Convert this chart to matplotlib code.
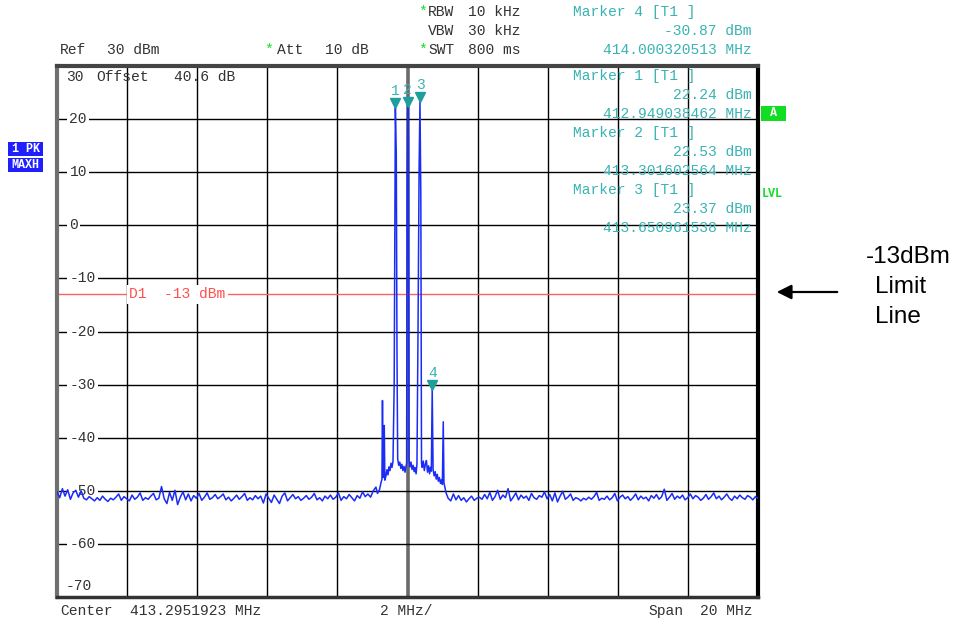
import matplotlib

matplotlib.use("Agg")
import matplotlib.pyplot as plt  # noqa: E402
import matplotlib.transforms as mtransforms  # noqa: E402
import numpy as np  # noqa: E402
from matplotlib.patches import Rectangle  # noqa: E402

W, H = 966, 623

CENTER_MHZ = 413.2951923
SPAN_MHZ = 20.0
REF_DBM = 30.0
LIMIT_DBM = -13.0
Y_LEVELS = [20, 10, 0, -10, -20, -30, -40, -50, -60]

# noise floor left of the carriers, swept from -10 MHz to about -0.9 MHz
noise_left = [
    -50.2, -51.3, -49.6, -51.0, -49.8, -51.6, -50.4, -49.9, -51.2, -50.0,
    -51.4, -51.7, -51.1, -51.5, -51.9, -51.3, -51.8, -51.0, -51.6, -52.0,
    -51.4, -51.7, -51.2, -50.6, -51.8, -51.1, -51.5, -51.9, -50.8, -51.6,
    -51.2, -50.4, -51.8, -51.3, -51.6, -51.0, -50.5, -51.7, -51.4, -49.2,
    -51.5, -52.4, -50.3, -51.8, -49.9, -52.6, -51.2, -50.2, -51.7, -50.6,
    -51.9, -50.9, -51.4, -50.5, -51.8, -51.2, -50.4, -51.6, -51.3, -50.7,
    -51.5, -51.1, -50.6, -51.7, -51.2, -51.9, -51.4, -50.8, -51.6, -51.1,
    -50.5, -51.8, -51.3, -51.7, -50.9, -51.5, -51.0, -52.3, -50.6, -51.4,
    -52.2, -50.8, -51.6, -52.4, -51.0, -50.4, -51.9, -51.3, -50.7, -51.5,
    -51.1, -51.8, -51.4, -50.9, -51.6, -51.2, -50.5, -51.7, -51.3, -51.9,
    -51.0, -51.5, -50.8, -51.6, -51.2, -50.4, -51.8, -51.1, -51.5, -50.7,
    -51.3, -51.9, -50.9, -51.4, -50.2, -51.1, -50.6, -51.2, -50.0, -49.3,
]
noise_left_span = (-10.0, -0.9)

# carrier region: (offset from center in MHz, level in dBm)
center_offsets = [
    -0.857, -0.800, -0.757, -0.729, -0.714, -0.697, -0.677, -0.663, -0.646, -0.614,
    -0.586, -0.557, -0.529, -0.500, -0.471, -0.443, -0.414, -0.380, -0.346, -0.320,
    -0.300, -0.280, -0.250, -0.220, -0.190, -0.160, -0.130, -0.100, -0.070, -0.045,
    -0.025, -0.010, 0.0064, 0.025, 0.045, 0.070, 0.100, 0.130, 0.160, 0.190,
    0.215, 0.245, 0.270, 0.300, 0.330, 0.3558, 0.380, 0.400, 0.420, 0.450,
    0.480, 0.510, 0.540, 0.570, 0.600, 0.630, 0.655, 0.680, 0.7051, 0.730,
    0.760, 0.790, 0.820, 0.850, 0.880, 0.910, 0.940, 0.970, 0.995, 1.020,
    1.040, 1.075, 1.100, 1.130,
]
center_levels = [
    -50.5, -49.8, -48.5, -47.8, -33.0, -47.5, -46.8, -37.7, -48.0, -47.2,
    -46.0, -47.0, -45.5, -46.2, -44.8, -45.6, -44.5, -30.0, 22.24, 13.4,
    -24.0, -44.0, -45.2, -44.6, -45.8, -45.0, -46.2, -45.4, -46.5, -45.6,
    -44.8, 8.0, 22.53, 16.0, -44.2, -45.5, -44.6, -46.0, -45.2, -46.4,
    -45.6, -46.8, -45.0, -20.0, 10.0, 23.37, 5.5, -44.8, -45.6, -44.4,
    -46.2, -45.0, -44.3, -46.5, -45.3, -46.8, -45.6, -46.3, -30.87, -46.0,
    -47.2, -46.4, -47.8, -46.9, -48.2, -47.5, -48.6, -47.9, -48.8, -37.0,
    -48.5, -49.6, -50.4, -50.9,
]

# noise floor right of the carriers, about 1.16 MHz to +10 MHz
noise_right = [
    -51.4, -51.9, -50.6, -51.7, -50.9, -51.8, -51.3, -52.1, -51.5, -51.0,
    -51.8, -51.4, -51.2, -51.6, -50.7, -51.5, -50.3, -51.8, -51.1, -49.9,
    -51.6, -50.8, -51.3, -49.6, -51.9, -51.2, -50.4, -51.7, -50.8, -51.4,
    -51.0, -51.8, -50.5, -51.3, -51.6, -50.9, -51.2, -50.2, -51.5, -50.7,
    -51.9, -50.4, -52.1, -51.0, -50.1, -51.6, -51.2, -50.6, -51.8, -51.3,
    -51.5, -51.9, -51.4, -51.7, -51.2, -51.6, -51.1, -50.3, -51.8, -51.4,
    -51.6, -51.0, -51.7, -51.3, -50.5, -51.9, -51.2, -50.8, -51.5, -51.1,
    -51.8, -51.3, -50.6, -51.7, -51.0, -51.5, -51.2, -51.9, -50.9, -51.4,
    -50.7, -51.6, -51.1, -49.7, -51.8, -51.2, -50.5, -51.6, -51.0, -51.4,
    -50.8, -51.7, -51.3, -50.6, -51.5, -50.9, -51.2, -51.8, -51.4, -50.7,
    -51.6, -51.1, -50.4, -51.5, -51.0, -51.7, -51.2, -50.6, -51.4, -51.8,
    -51.0, -51.5, -50.8, -51.3, -51.6, -50.9, -51.2, -51.7, -51.1, -51.4,
]
noise_right_span = (1.16, 10.0)

markers = [
    ("1", 412.949038462, 22.24),
    ("2", 413.301602564, 22.53),
    ("3", 413.650961538, 23.37),
    ("4", 414.000320513, -30.87),
]

MONO = "Liberation Mono"
GREY = "#333333"
TEAL = "#3ab3b3"
GREEN = "#11dd22"
TRACE = "#1a2cf5"


def px(x, y):
    return x / W, 1 - y / H


def ftext(x, y, s, color=GREY, ha="left", size=10.5, **kw):
    fx, fy = px(x, y)
    fig.text(fx, fy, s, color=color, ha=ha, va="center", family=MONO, fontsize=size, **kw)


off_left = np.linspace(noise_left_span[0], noise_left_span[1], len(noise_left))
off_right = np.linspace(noise_right_span[0], noise_right_span[1], len(noise_right))
offsets = np.concatenate([off_left, np.asarray(center_offsets), off_right])
levels = np.concatenate([noise_left, center_levels, noise_right])
freq = CENTER_MHZ + offsets

fig = plt.figure(figsize=(W / 100, H / 100), dpi=100)
ax = fig.add_axes([57 / W, 26 / H, 701 / W, 531 / H])
ax.set_xlim(CENTER_MHZ - SPAN_MHZ / 2, CENTER_MHZ + SPAN_MHZ / 2)
ax.set_ylim(REF_DBM - 100, REF_DBM)
ax.set_xticks([])
ax.set_yticks([])

for k in range(-4, 5):
    if k == 0:
        ax.axvline(CENTER_MHZ, color="#6a6a6a", lw=2.6, zorder=1)
    else:
        ax.axvline(CENTER_MHZ + 2 * k, color="black", lw=1.0, zorder=1)
for lv in Y_LEVELS:
    ax.axhline(lv, color="black", lw=1.0, zorder=1)

ax.axhline(LIMIT_DBM, color="#ff6060", lw=1.0, zorder=2)

ax.plot(freq, levels, color=TRACE, lw=1.1, zorder=6)

tri = mtransforms.offset_copy(ax.transData, fig=fig, x=0, y=4, units="dots")
lab = mtransforms.offset_copy(ax.transData, fig=fig, x=0, y=16, units="dots")
for name, f, lv in markers:
    ax.plot([f], [lv], marker="v", ms=7, color="#1f9e9e", mec="#1f9e9e", transform=tri, zorder=7)
    ax.text(f, lv, name, color=TEAL, family=MONO, fontsize=10.5, ha="center", va="center",
            transform=lab, zorder=7)

for lv in Y_LEVELS:
    ax.annotate(f"{lv}", xy=(0, lv), xycoords=("axes fraction", "data"), xytext=(9, 0),
                textcoords="offset points", ha="left", va="center", family=MONO, fontsize=10.5,
                color=GREY, zorder=4,
                bbox=dict(boxstyle="square,pad=0.15", fc="white", ec="none"))
ax.annotate("D1  -13 dBm", xy=(0, LIMIT_DBM), xycoords=("axes fraction", "data"), xytext=(52, 0),
            textcoords="offset points", ha="left", va="center", family=MONO, fontsize=10.5,
            color="#ff5050", zorder=4,
            bbox=dict(boxstyle="square,pad=0.15", fc="white", ec="none"))

ax.spines["top"].set_linewidth(3)
ax.spines["top"].set_color("#444444")
ax.spines["left"].set_linewidth(3)
ax.spines["left"].set_color("#707070")
ax.spines["right"].set_linewidth(3)
ax.spines["right"].set_color("black")
ax.spines["bottom"].set_linewidth(2.5)
ax.spines["bottom"].set_color("#333333")

# header
ftext(60, 50, "Ref")
ftext(107, 50, "30 dBm")
ftext(264, 50, "*", color=GREEN)
ftext(277, 50, "Att")
ftext(325, 50, "10 dB")
ftext(418, 12, "*", color=GREEN)
ftext(428, 12, "RBW")
ftext(468, 12, "10 kHz")
ftext(428, 31, "VBW")
ftext(468, 31, "30 kHz")
ftext(418, 50, "*", color=GREEN)
ftext(428, 50, "SWT")
ftext(468, 50, "800 ms")

ftext(573, 12, "Marker 4 [T1 ]", color=TEAL)
ftext(752, 31, "-30.87 dBm", color=TEAL, ha="right")
ftext(752, 50, "414.000320513 MHz", color=TEAL, ha="right")

marker_rows = [
    ("Marker 1 [T1 ]", "22.24 dBm", "412.949038462 MHz"),
    ("Marker 2 [T1 ]", "22.53 dBm", "413.301602564 MHz"),
    ("Marker 3 [T1 ]", "23.37 dBm", "413.650961538 MHz"),
]
for i, (title, lvl, frq) in enumerate(marker_rows):
    y0 = 76 + 57 * i
    ftext(573, y0, title, color=TEAL)
    ftext(752, y0 + 19, lvl, color=TEAL, ha="right")
    ftext(752, y0 + 38, frq, color=TEAL, ha="right")

ftext(66, 77, "30")
ftext(96, 77, "Offset")
ftext(174, 77, "40.6 dB")
ftext(66, 586, "-70")

ftext(60, 611, "Center")
ftext(130, 611, "413.2951923 MHz")
ftext(380, 611, "2 MHz/")
ftext(648, 611, "Span")
ftext(752, 611, "20 MHz", ha="right")

# side badges
for x0, y0, w, h, s, c in [(8, 142, 35, 14, "1 PK", "#1f1fff"), (8, 158, 35, 14, "MAXH", "#1f1fff"),
                            (761, 106, 25, 15, "A", GREEN)]:
    fx, fy = px(x0, y0 + h)
    fig.add_artist(Rectangle((fx, fy), w / W, h / H, transform=fig.transFigure, fc=c, ec="none"))
    cx, cy = px(x0 + w / 2, y0 + h / 2)
    fig.text(cx, cy, s, color="white", ha="center", va="center", family=MONO, fontsize=8.5,
             fontweight="bold")
ftext(762, 194, "LVL", color=GREEN, size=8.5, fontweight="bold")

# limit-line callout
fig.text(*px(866, 257), "-13dBm", family="Liberation Sans", fontsize=17.5, va="center", ha="left")
fig.text(*px(875, 287), "Limit", family="Liberation Sans", fontsize=17.5, va="center", ha="left")
fig.text(*px(875, 317), "Line", family="Liberation Sans", fontsize=17.5, va="center", ha="left")
ax.annotate("", xy=px(774, 292), xytext=px(840, 292), xycoords="figure fraction",
            textcoords="figure fraction", annotation_clip=False,
            arrowprops=dict(arrowstyle="-|>", color="black", lw=1.6, mutation_scale=22))

fig.savefig("out.png", dpi=100)
